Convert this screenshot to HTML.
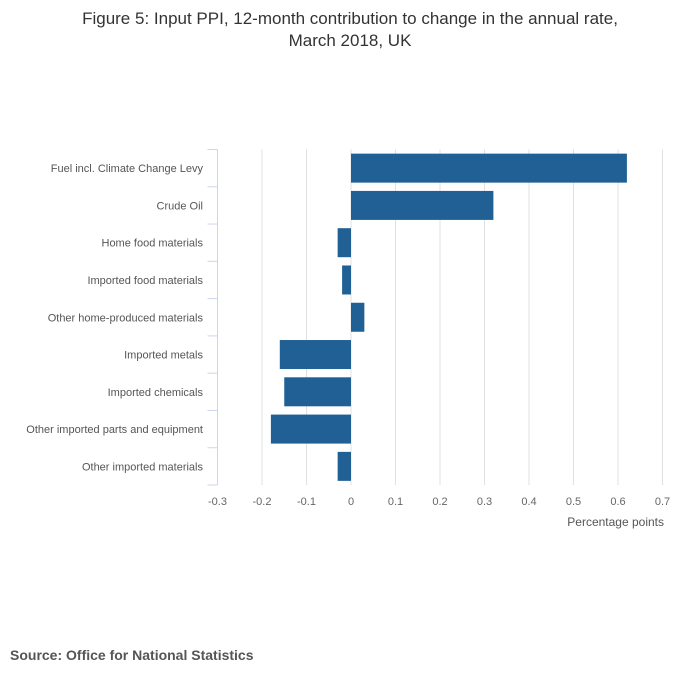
<!DOCTYPE html>
<html><head><meta charset="utf-8"><style>
body{margin:0;background:#fff;font-family:"Liberation Sans","DejaVu Sans",sans-serif;}
svg text{font-family:"Liberation Sans","DejaVu Sans",sans-serif;}
</style></head><body>
<svg width="700" height="682" xmlns="http://www.w3.org/2000/svg">
<text x="350" y="24" text-anchor="middle" font-size="17" fill="#333">Figure 5: Input PPI, 12-month contribution to change in the annual rate,</text>
<text x="350" y="46" text-anchor="middle" font-size="17" fill="#333">March 2018, UK</text>
<g id="grid"></g><g id="bars"></g><g id="axes"></g>
<text x="664" y="526" text-anchor="end" font-size="12" fill="#555">Percentage points</text>
<text x="10" y="660" font-size="14" font-weight="bold" fill="#555">Source: Office for National Statistics</text>
</svg>
<script>
const categories=["Fuel incl. Climate Change Levy","Crude Oil","Home food materials","Imported food materials","Other home-produced materials","Imported metals","Imported chemicals","Other imported parts and equipment","Other imported materials"];
const values=[0.62,0.32,-0.03,-0.02,0.03,-0.16,-0.15,-0.18,-0.03];
const ticks=[-0.3,-0.2,-0.1,0,0.1,0.2,0.3,0.4,0.5,0.6,0.7];
const NS="http://www.w3.org/2000/svg";
const x0=217.5,x1=662.5,yTop=149.5,yBot=485,xmin=-0.3,xmax=0.7;
const xs=v=>x0+(v-xmin)/(xmax-xmin)*(x1-x0);
const band=(yBot-yTop)/categories.length;
function mk(t,a,p){const e=document.createElementNS(NS,t);for(const k in a)e.setAttribute(k,a[k]);p.appendChild(e);return e;}
const grid=document.getElementById('grid'),bars=document.getElementById('bars'),axes=document.getElementById('axes');
ticks.forEach(t=>{
 if(t!==xmin){const l=mk('line',{x1:xs(t),x2:xs(t),y1:yTop,y2:yBot,stroke:'#e0e0e0','stroke-width':1},grid);
 
 }
 const tx=mk('text',{x:xs(t),y:505,'text-anchor':'middle','font-size':11,fill:'#666'},axes);
 tx.textContent=String(t);
 
 
});
const ax=mk('line',{x1:x0,x2:x0,y1:yTop,y2:yBot,stroke:'#ccd6eb','stroke-width':1},axes);


for(let i=0;i<=categories.length;i++){
 const y=yTop+i*band;
 const tk=mk('line',{x1:x0-10,x2:x0,y1:y,y2:y,stroke:'#ccd6eb','stroke-width':1},axes);
 
 
}
categories.forEach((c,i)=>{
 const cy=yTop+(i+0.5)*band,v=values[i];
 const bh=29;
 const r=mk('rect',{x:Math.min(xs(0),xs(v)),y:cy-bh/2,width:Math.abs(xs(v)-xs(0)),height:bh,fill:'#206095'},bars);
 
 
 const t=mk('text',{x:203,y:cy+4,'text-anchor':'end','font-size':11,fill:'#555'},axes);
 t.textContent=c;
 
 
});
</script>
</body></html>
